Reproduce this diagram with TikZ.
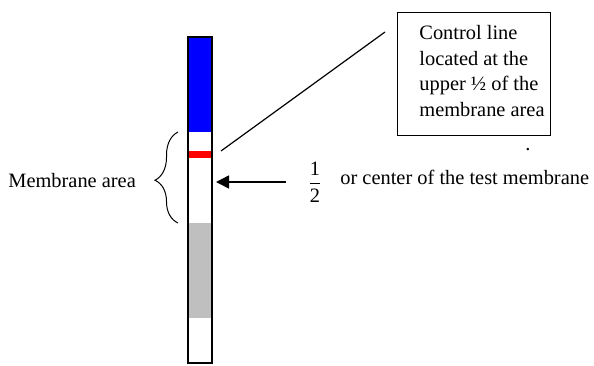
\documentclass[tikz,border=0pt]{standalone}
\usepackage{fontspec}
\setmainfont{Liberation Serif}
\usetikzlibrary{positioning, arrows.meta, decorations.pathreplacing}

\begin{document}
\begin{tikzpicture}[
	x=0.5pt, y=-0.5pt,
	font=\fontsize{10.2}{12.8}\selectfont,
	part/.style={
		rectangle,
		inner sep=0pt,
		outer sep=0pt,
		minimum width=12pt,
		anchor=north west
	},
	callout/.style={
		rectangle,
		draw=black,
		line width=0.6pt,
		anchor=north west,
		minimum width=76.5pt,
		minimum height=61.5pt
	},
	marca/.style={
		inner sep=0pt,
		align=left
	},
	flecha/.style={
		-{Triangle[length=6.5pt,width=6.5pt]},
		line width=0.75pt
	},
	llave/.style={
		decorate,
		decoration={brace, amplitude=11.5pt, aspect=0.47},
		line width=0.5pt
	}
	]
	\useasboundingbox (0,0) rectangle (594,365);
	% strip and its zones
	\node[part, fill=blue, minimum height=47.5pt] (pad) at (188,37) {};
	\node[part, fill=red, minimum height=3.5pt] (ctrl) at (188,151) {};
	\node[part, fill=gray!50, minimum height=47.5pt] (wick) at (188,223) {};
	\node[part, draw=black, line width=1pt, minimum height=163pt] (strip) at (188,37) {};
	% note box
	\node[callout] (note) at (397,12) {};
	\node[marca, anchor=north west] (notetext) at (419,25)
	{Control line\\located at the\\upper ½ of the\\membrane area};
	\node[marca, anchor=base] (dot) at (528,150) {.};
	\coordinate (tip) at (385,32);
	\draw[line width=0.6pt] ([xshift=4.5pt]ctrl.north east) -- (tip);
	% membrane brace
	\coordinate (bbot) at (178,223);
	\coordinate (btop) at (178,132);
	\draw[llave] (bbot) -- (btop);
	\node[marca, anchor=base west] (mlabel) at (8,187) {Membrane area};
	% centre arrow
	\coordinate (tail) at (286,182);
	\draw[flecha, shorten >=2pt] (tail) -- (strip.east |- tail);
	\node[marca] (half) at (315,182)
	{$\displaystyle\frac{\mbox{1}}{\mbox{2}}$};
	\node[marca, anchor=base west] (centre) at (340,184)
	{or center of the test membrane};
\end{tikzpicture}
\end{document}
